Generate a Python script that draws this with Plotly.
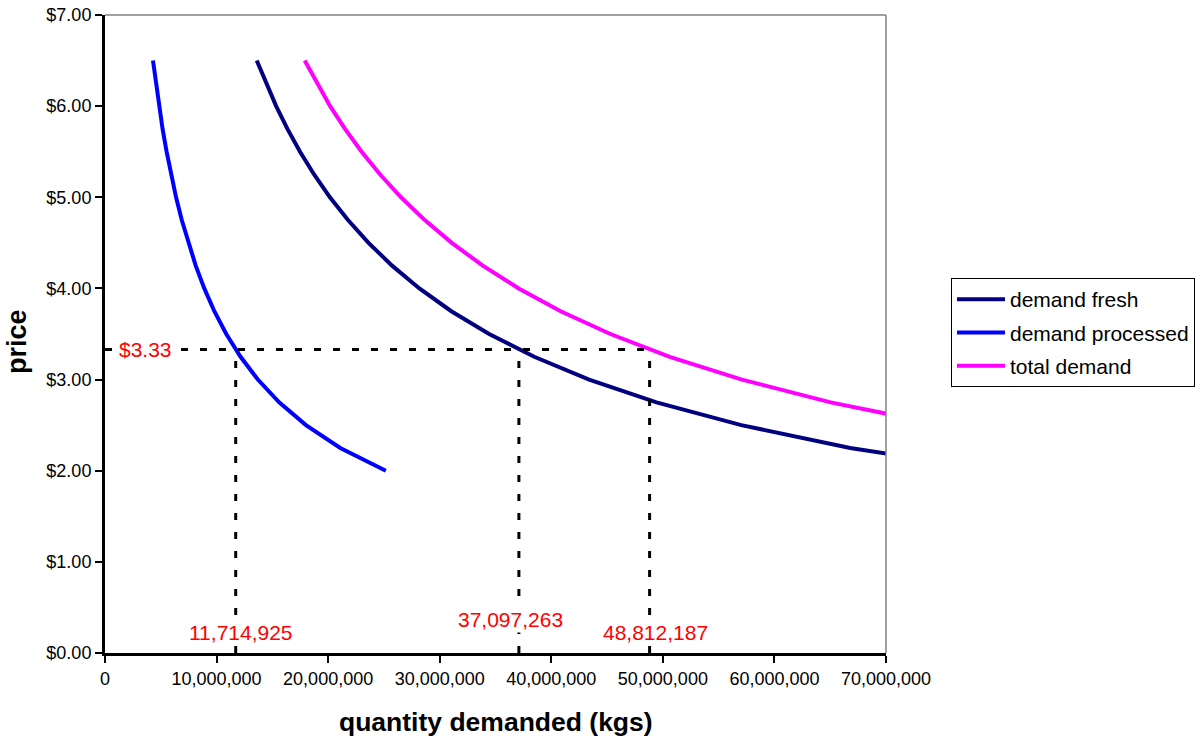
import plotly.graph_objects as go

# Price points ($/kg) and quantities demanded (kg) at each price
prices = [6.5, 6.25, 6.0, 5.75, 5.5, 5.25, 5.0, 4.75, 4.5, 4.25, 4.0,
          3.75, 3.5, 3.25, 3.0, 2.75, 2.5, 2.25, 2.0]
demand_fresh = [13.60e6, 14.43e6, 15.34e6, 16.35e6, 17.48e6, 18.74e6, 20.16e6,
                21.78e6, 23.62e6, 25.73e6, 28.18e6, 31.04e6, 34.43e6, 38.47e6,
                43.39e6, 49.43e6, 57.03e6, 66.79e6, 79.70e6]
demand_processed = [4.30e6, 4.56e6, 4.84e6, 5.16e6, 5.52e6, 5.92e6, 6.37e6,
                    6.88e6, 7.46e6, 8.13e6, 8.90e6, 9.80e6, 10.87e6, 12.15e6,
                    13.70e6, 15.61e6, 18.01e6, 21.09e6, 25.17e6]
total_demand = [17.90e6, 18.99e6, 20.18e6, 21.51e6, 23.00e6, 24.66e6, 26.53e6,
                28.66e6, 31.08e6, 33.86e6, 37.08e6, 40.84e6, 45.30e6, 50.62e6,
                57.09e6, 65.04e6, 75.04e6, 87.88e6, 104.87e6]

# Equilibrium price and the quantities demanded at that price
eq_price = 3.33
eq_processed = 11714925
eq_fresh = 37097263
eq_total = 48812187

FONT = "Arial, Liberation Sans, sans-serif"

fig = go.Figure()

series = [
    ("demand fresh", demand_fresh, "#000080"),
    ("demand processed", demand_processed, "#0000FF"),
    ("total demand", total_demand, "#FF00FF"),
]
for name, qty, color in series:
    fig.add_trace(go.Scatter(x=qty, y=prices, mode="lines", name=name,
                             legendgroup=name,
                             line=dict(color=color, width=4)))

guide = dict(color="black", width=3, dash="7px,12px")
# horizontal guide at the equilibrium price
fig.add_trace(go.Scatter(x=[0, eq_total], y=[eq_price, eq_price], mode="lines",
                         line=guide, showlegend=False, hoverinfo="skip"))
# vertical guides down to the quantity axis
for q in (eq_processed, eq_fresh, eq_total):
    fig.add_trace(go.Scatter(x=[q, q], y=[0, eq_price], mode="lines",
                             line=guide, showlegend=False, hoverinfo="skip"))

red = dict(family=FONT, size=21, color="#FF0000")
annotations = [
    dict(x=3.6e6, y=eq_price, text=f"${eq_price:.2f}", xref="x", yref="y",
         showarrow=False, font=red, bgcolor="white", borderpad=1),
    dict(x=eq_processed, y=0.23, xshift=5, text=f"{eq_processed:,}",
         xref="x", yref="y", showarrow=False, font=red, bgcolor="white", borderpad=1),
    dict(x=eq_fresh, y=0.37, xshift=-8, text=f"{eq_fresh:,}",
         xref="x", yref="y", showarrow=False, font=red, bgcolor="white", borderpad=1),
    dict(x=eq_total, y=0.23, xshift=6, text=f"{eq_total:,}",
         xref="x", yref="y", showarrow=False, font=red, bgcolor="white", borderpad=1),
    # axis titles
    dict(x=-0.1127, y=0.489, xref="paper", yref="paper", text="<b>price</b>",
         textangle=-90, showarrow=False, xanchor="center", yanchor="middle",
         font=dict(family=FONT, size=27, color="black")),
    dict(x=0.5, y=-0.108, xref="paper", yref="paper",
         text="<b>quantity demanded (kgs)</b>", showarrow=False,
         xanchor="center", yanchor="middle",
         font=dict(family=FONT, size=26.5, color="black")),
]

fig.update_layout(
    width=1202, height=738,
    margin=dict(l=105, r=316, t=15, b=85, autoexpand=False),
    paper_bgcolor="white", plot_bgcolor="white",
    font=dict(family=FONT, size=18, color="black"),
    annotations=annotations,
    showlegend=True,
    legend=dict(x=1.0832, y=0.5878, xanchor="left", yanchor="top",
                bordercolor="black", borderwidth=1, bgcolor="white",
                font=dict(family=FONT, size=21, color="black"),
                tracegroupgap=3, itemwidth=48),
    shapes=[
        # grey frame on the top and right sides of the plotting area
        dict(type="line", xref="paper", yref="paper", x0=0, x1=1, y0=1, y1=1,
             line=dict(color="#808080", width=1.5)),
        dict(type="line", xref="paper", yref="paper", x0=1, x1=1, y0=0, y1=1,
             line=dict(color="#808080", width=1.5)),
    ],
)

fig.update_xaxes(range=[0, 70e6], dtick=10e6, tickformat=",d",
                 showgrid=False, zeroline=False,
                 showline=True, linecolor="black", linewidth=3,
                 ticks="outside", ticklen=7, tickwidth=2, tickcolor="black",
                 tickfont=dict(family=FONT, size=18, color="black"))
fig.update_yaxes(range=[0, 7], dtick=1, tickprefix="$", tickformat=".2f",
                 showgrid=False, zeroline=False,
                 showline=True, linecolor="black", linewidth=3,
                 ticks="outside", ticklen=7, tickwidth=2, tickcolor="black",
                 tickfont=dict(family=FONT, size=18, color="black"))

fig.write_html("out.html")
